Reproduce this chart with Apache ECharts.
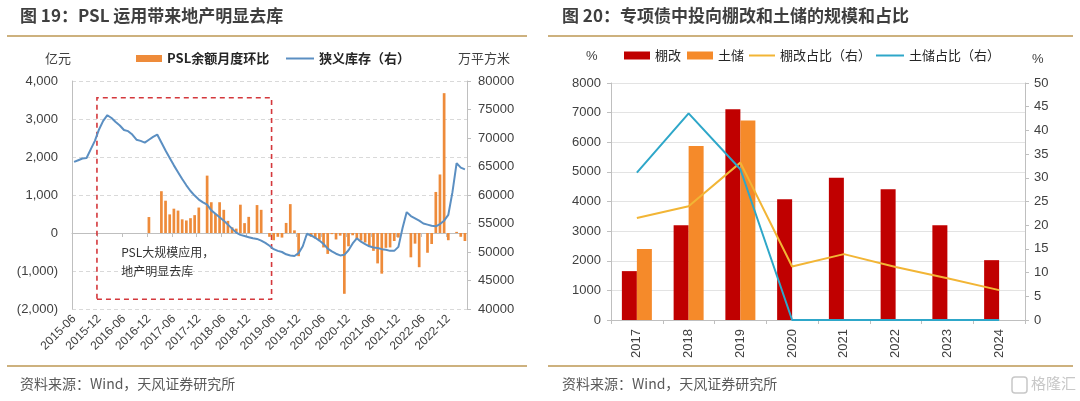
<!DOCTYPE html>
<html><head><meta charset="utf-8">
<script src="https://cdn.jsdelivr.net/npm/echarts@6/dist/echarts.min.js"></script>
<style>html,body{margin:0;padding:0;background:#fff}#c{width:1080px;height:401px}</style>
</head><body><div id="c"></div>
<script>
// ---------- Left chart data (monthly, 2015-06 .. 2023-04) ----------
const months = [];
for (let y = 2015, m = 6; months.length < 95; ) {
  months.push(y + '-' + (m < 10 ? '0' + m : '' + m));
  m++; if (m > 12) { m = 1; y++; }
}
// PSL余额月度环比 (亿元)
const pslChange = [
  0,0,0,0,0,0,0,0,0,0,0,0,0,0,0,0,0,0,
  420,0,0,1100,850,490,640,590,360,330,390,470,670,0,
  1510,810,500,810,610,320,150,115,745,260,425,0,735,610,0,
  -100,-190,-100,-120,265,760,70,-610,0,0,
  -100,-140,-180,-380,-550,-30,-170,-70,-1600,-350,-60,
  -150,-200,-250,-340,-470,-800,-1070,-390,-380,-210,-120,0,0,
  -640,-280,-900,0,-520,-290,1080,1540,3680,-190,0,30,-100,-210
];
// 狭义库存 (万平方米, 右轴)
const inventory = [
  65800,66100,66400,66500,68000,69500,71500,73000,74000,73500,
  72800,72200,71400,71200,70600,69700,69500,69200,69700,70200,
  70600,69200,67800,66500,65200,64000,62800,61700,60700,59900,
  59200,58700,58300,57300,56700,56100,55500,54800,54100,53400,
  53000,52800,52600,52400,52300,52000,51600,51100,50500,50200,
  50000,49600,49400,49300,49800,51000,53200,52900,52500,52000,
  51400,50600,50100,49700,49400,49500,50300,51500,52400,51800,
  51400,51000,50800,50700,50500,50400,50200,50200,50900,54200,
  57000,56300,55900,55500,55000,54800,54600,54500,54900,55500,
  56500,60500,65600,64800,64500
];
const leftTicksL = [-2000, 4000, 1000];   // min, max, interval
const leftTicksR = [40000, 80000, 5000];
const boxRange = ['2015-12', '2019-05'];  // annotated period

// ---------- Right chart data ----------
const years = ['2017','2018','2019','2020','2021','2022','2023','2024'];
const shantyBond = [1650, 3200, 7110, 4080, 4800, 4410, 3200, 2020];
const landBond   = [2400, 5870, 6730, null, null, null, null, null];
const shantyRatio = [21.5, 24.0, 33.2, 11.3, 13.9, 11.2, 8.8, 6.3];
const landRatio   = [31.1, 43.6, 31.8, 0, 0, 0, 0, 0];
const rightTicksL = [0, 8000, 1000];
const rightTicksR = [0, 50, 5];

const CJK = 'Noto Sans CJK SC';
const NUM = 'Liberation Sans, Arial, Noto Sans CJK SC';
const axisGray = '#BFBFBF';
const txt = '#404040';

function fmtK(v) {
  const s = Math.abs(v).toString().replace(/\B(?=(\d{3})+(?!\d))/g, ',');
  return v < 0 ? '(' + s + ')' : s;
}
function plain(v) { return String(v); }

const chart = echarts.init(document.getElementById('c'), null, {renderer: 'canvas'});

const legendBase = {padding: 0, selectedMode: false, itemGap: 0, icon: 'rect'};

chart.setOption({
  animation: false,
  backgroundColor: '#fff',
  grid: [
    {left: 72, top: 81, width: 395, height: 228},
    {left: 611, top: 83, width: 414, height: 237}
  ],
  legend: [
    Object.assign({}, legendBase, {left: 136, top: 52, data: ['PSL余额月度环比'], itemWidth: 26, itemHeight: 7,
      textStyle: {fontSize: 13, fontWeight: 'bold', color: '#262626', fontFamily: CJK}}),
    Object.assign({}, legendBase, {left: 286, top: 52, data: ['狭义库存（右）'], itemWidth: 28, itemHeight: 2,
      textStyle: {fontSize: 13, fontWeight: 'bold', color: '#262626', fontFamily: CJK}}),
    Object.assign({}, legendBase, {left: 624, top: 49, data: ['棚改'], itemWidth: 26, itemHeight: 8,
      textStyle: {fontSize: 13, color: '#262626', fontFamily: CJK}}),
    Object.assign({}, legendBase, {left: 687, top: 49, data: ['土储'], itemWidth: 26, itemHeight: 8,
      textStyle: {fontSize: 13, color: '#262626', fontFamily: CJK}}),
    Object.assign({}, legendBase, {left: 749, top: 49, data: ['棚改占比（右）'], itemWidth: 26, itemHeight: 2,
      textStyle: {fontSize: 13, color: '#262626', fontFamily: CJK}}),
    Object.assign({}, legendBase, {left: 876, top: 49, data: ['土储占比（右）'], itemWidth: 28, itemHeight: 2,
      textStyle: {fontSize: 13, color: '#262626', fontFamily: CJK}})
  ],
  xAxis: [
    { // left chart labels (bottom)
      type: 'category', gridIndex: 0, data: months, position: 'bottom',
      axisLine: {show: false, onZero: false}, axisTick: {show: false},
      axisLabel: {interval: 5, rotate: 45, fontSize: 12, color: txt, fontFamily: NUM, margin: 8}
    },
    { // left chart zero line
      type: 'category', gridIndex: 0, data: months, position: 'bottom',
      axisLine: {show: true, onZero: true, onZeroAxisIndex: 0, lineStyle: {color: axisGray, width: 1}},
      axisTick: {show: true, interval: 5, length: 4, lineStyle: {color: axisGray}},
      axisLabel: {show: false}
    },
    {
      type: 'category', gridIndex: 1, data: years,
      axisLine: {show: true, lineStyle: {color: axisGray}},
      axisTick: {show: true, length: 4, lineStyle: {color: axisGray}},
      axisLabel: {rotate: 90, fontSize: 13, color: txt, fontFamily: NUM, margin: 9}
    }
  ],
  yAxis: [
    {
      type: 'value', gridIndex: 0, min: leftTicksL[0], max: leftTicksL[1], interval: leftTicksL[2],
      axisLine: {show: true, lineStyle: {color: axisGray}}, axisTick: {show: false},
      splitLine: {show: true, lineStyle: {color: '#D9D9D9', type: [4, 3]}},
      axisLabel: {formatter: fmtK, fontSize: 13, color: txt, fontFamily: NUM, margin: 14}
    },
    {
      type: 'value', gridIndex: 0, position: 'right', min: leftTicksR[0], max: leftTicksR[1], interval: leftTicksR[2],
      axisLine: {show: true, lineStyle: {color: axisGray}},
      axisTick: {show: true, length: 4, lineStyle: {color: axisGray}},
      splitLine: {show: false},
      axisLabel: {formatter: plain, fontSize: 13, color: txt, fontFamily: NUM, margin: 11}
    },
    {
      type: 'value', gridIndex: 1, min: rightTicksL[0], max: rightTicksL[1], interval: rightTicksL[2],
      axisLine: {show: true, lineStyle: {color: axisGray}},
      axisTick: {show: true, length: 4, lineStyle: {color: axisGray}},
      splitLine: {show: true, lineStyle: {color: '#E3E3E3'}},
      axisLabel: {formatter: plain, fontSize: 13, color: txt, fontFamily: NUM, margin: 10}
    },
    {
      type: 'value', gridIndex: 1, position: 'right', min: rightTicksR[0], max: rightTicksR[1], interval: rightTicksR[2],
      axisLine: {show: true, lineStyle: {color: axisGray}},
      axisTick: {show: true, length: 4, lineStyle: {color: axisGray}},
      splitLine: {show: false},
      axisLabel: {formatter: plain, fontSize: 13, color: txt, fontFamily: NUM, margin: 9}
    }
  ],
  series: [
    {
      name: 'PSL余额月度环比', type: 'bar', xAxisIndex: 0, yAxisIndex: 0, data: pslChange,
      color: '#EE8B3A', itemStyle: {color: '#EE8B3A'}, barCategoryGap: '35%',
      markArea: {
        silent: true,
        itemStyle: {color: 'rgba(0,0,0,0)', borderColor: '#D4383C', borderWidth: 1.6, borderType: [5, 4]},
        label: {
          show: true, position: [25, 146], align: 'left', verticalAlign: 'top',
          fontSize: 12, lineHeight: 19, color: '#333', fontFamily: CJK,
          formatter: 'PSL大规模应用，\n地产明显去库'
        },
        data: [[{xAxis: months.indexOf(boxRange[0]), yAxis: 3560}, {xAxis: months.indexOf(boxRange[1]), yAxis: -1745}]]
      },
      z: 2
    },
    {
      name: '狭义库存（右）', type: 'line', xAxisIndex: 0, yAxisIndex: 1, data: inventory,
      color: '#5B8FC2', symbol: 'none', lineStyle: {color: '#5B8FC2', width: 2}, z: 3
    },
    {
      name: '棚改', type: 'bar', xAxisIndex: 2, yAxisIndex: 2, data: shantyBond,
      color: '#C00000', itemStyle: {color: '#C00000'}, barWidth: 15, barGap: '0%'
    },
    {
      name: '土储', type: 'bar', xAxisIndex: 2, yAxisIndex: 2, data: landBond,
      color: '#F58A2A', itemStyle: {color: '#F58A2A'}, barWidth: 15, barGap: '0%'
    },
    {
      name: '棚改占比（右）', type: 'line', xAxisIndex: 2, yAxisIndex: 3, data: shantyRatio,
      color: '#F2B535', symbol: 'none', lineStyle: {color: '#F2B535', width: 2}, z: 3
    },
    {
      name: '土储占比（右）', type: 'line', xAxisIndex: 2, yAxisIndex: 3, data: landRatio,
      color: '#2EA7C9', symbol: 'none', lineStyle: {color: '#2EA7C9', width: 2}, z: 4
    }
  ],
  graphic: [
    {type: 'text', left: 20, top: 7, style: {text: '图 19：PSL 运用带来地产明显去库', fontSize: 17, fontWeight: 'bold', fill: '#3F3F3F', fontFamily: CJK}},
    {type: 'text', left: 562, top: 7, style: {text: '图 20：专项债中投向棚改和土储的规模和占比', fontSize: 17, fontWeight: 'bold', fill: '#3F3F3F', fontFamily: CJK}},
    {type: 'line', shape: {x1: 7, y1: 36, x2: 527, y2: 36}, style: {stroke: '#CDB17E', lineWidth: 2}},
    {type: 'line', shape: {x1: 548, y1: 36, x2: 1073, y2: 36}, style: {stroke: '#CDB17E', lineWidth: 2}},
    {type: 'line', shape: {x1: 7, y1: 366, x2: 527, y2: 366}, style: {stroke: '#CDB17E', lineWidth: 2}},
    {type: 'line', shape: {x1: 548, y1: 366, x2: 1073, y2: 366}, style: {stroke: '#CDB17E', lineWidth: 2}},
    {type: 'text', left: 45, top: 52, style: {text: '亿元', fontSize: 13, fill: txt, fontFamily: CJK}},
    {type: 'text', left: 458, top: 52, style: {text: '万平方米', fontSize: 13, fill: txt, fontFamily: CJK}},
    {type: 'text', left: 586, top: 50, style: {text: '%', fontSize: 13, fill: txt, fontFamily: NUM}},
    {type: 'text', left: 1032, top: 53, style: {text: '%', fontSize: 13, fill: txt, fontFamily: NUM}},
    {type: 'text', left: 20, top: 377, style: {text: '资料来源：Wind，天风证券研究所', fontSize: 14, fill: '#595959', fontFamily: CJK}},
    {type: 'text', left: 562, top: 377, style: {text: '资料来源：Wind，天风证券研究所', fontSize: 14, fill: '#595959', fontFamily: CJK}},
    {type: 'rect', shape: {x: 1012, y: 377, width: 15, height: 16, r: 3}, style: {fill: 'none', stroke: '#C8C8C8', lineWidth: 1.5}},
    {type: 'text', left: 1031, top: 376, style: {text: '格隆汇', fontSize: 15, fill: '#C8C8C8', fontFamily: CJK}}
  ]
});
</script>
</body></html>
